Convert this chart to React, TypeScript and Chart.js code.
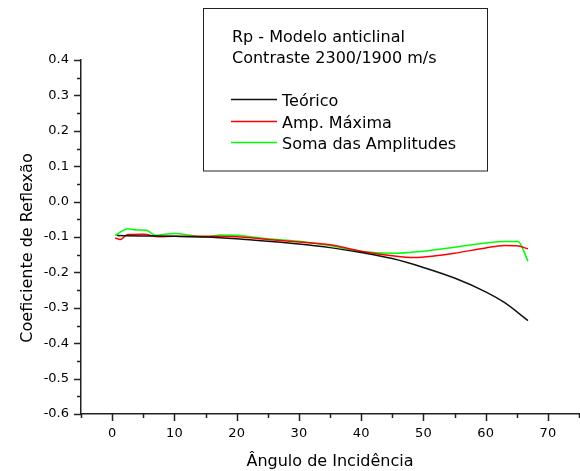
import React, { useEffect, useRef } from "react";
import { Chart, registerables } from "chart.js";

Chart.register(...registerables);

const xTicks = [0, 10, 20, 30, 40, 50, 60, 70];
const yTicks = [-0.6, -0.5, -0.4, -0.3, -0.2, -0.1, 0.0, 0.1, 0.2, 0.3, 0.4];

const titleLines = ["Rp - Modelo anticlinal", "Contraste 2300/1900 m/s"];
const xTitle = "Ângulo de Incidência";
const yTitle = "Coeficiente de Reflexão";

const seriesNames = ["Teórico", "Amp. Máxima", "Soma das Amplitudes"];
const seriesColors = ["#111111", "#ff0000", "#00ff00"];

const teoricoAngles = [0.8, 5, 10, 15, 20, 25, 30, 35, 40, 45, 50, 55, 60, 63, 66.8];
const teoricoValues = [-0.096, -0.097, -0.098, -0.1, -0.105, -0.112, -0.12, -0.13, -0.144, -0.161, -0.186, -0.216, -0.255, -0.285, -0.336];

const ampMaxAngles = [0.5, 1.3, 2.5, 5, 7.5, 10, 15, 20, 25, 30, 35, 40, 45, 48.5, 52, 55, 60, 63, 65, 66.8];
const ampMaxValues = [-0.103, -0.107, -0.093, -0.092, -0.099, -0.098, -0.098, -0.099, -0.107, -0.114, -0.122, -0.14, -0.153, -0.158, -0.153, -0.146, -0.131, -0.124, -0.125, -0.133];

const somaAngles = [0.5, 1.5, 2.5, 4, 5.5, 7, 10, 12.5, 15, 17.5, 20, 25, 30, 35, 40, 45, 50, 55, 60, 63, 65.2, 66.8];
const somaValues = [-0.096, -0.084, -0.077, -0.08, -0.081, -0.095, -0.09, -0.095, -0.1, -0.094, -0.095, -0.105, -0.112, -0.124, -0.141, -0.146, -0.14, -0.129, -0.117, -0.113, -0.113, -0.168];

const FONT = "'DejaVu Sans', sans-serif";

const toPoints = (xs: number[], ys: number[]) => xs.map((x, i) => ({ x, y: ys[i] }));

const decorPlugin = {
  id: "decor",
  afterDraw(chart: any) {
    const ctx = chart.ctx as CanvasRenderingContext2D;
    const xs = chart.scales.x;
    const ys = chart.scales.y;
    const area = chart.chartArea;
    ctx.save();
    ctx.strokeStyle = "#222";
    ctx.lineWidth = 1.5;
    for (let v = -5; v <= 75; v += 5) {
      const px = Math.round(xs.getPixelForValue(v)) + 0.5;
      const major = v % 10 === 0;
      ctx.beginPath();
      ctx.moveTo(px, area.bottom);
      ctx.lineTo(px, area.bottom + (major ? 7 : 4));
      ctx.stroke();
    }
    for (let i = -12; i <= 8; i++) {
      const v = i * 0.05;
      const py = Math.round(ys.getPixelForValue(v)) + 0.5;
      const major = i % 2 === 0;
      ctx.beginPath();
      ctx.moveTo(area.left, py);
      ctx.lineTo(area.left - (major ? 7 : 4), py);
      ctx.stroke();
    }
    ctx.fillStyle = "#000";
    ctx.font = `16px ${FONT}`;
    ctx.textAlign = "center";
    ctx.textBaseline = "alphabetic";
    ctx.fillText(xTitle, (area.left + area.right) / 2, 466);
    ctx.save();
    ctx.translate(32, 248);
    ctx.rotate(-Math.PI / 2);
    ctx.fillText(yTitle, 0, 0);
    ctx.restore();
    ctx.lineWidth = 1;
    ctx.strokeStyle = "#222";
    ctx.strokeRect(203.5, 8.5, 284, 162.5);
    ctx.textAlign = "left";
    ctx.fillText(titleLines[0], 232, 42);
    ctx.fillText(titleLines[1], 232, 63);
    const itemY = [99.5, 121.5, 142.5];
    seriesNames.forEach((name, i) => {
      ctx.strokeStyle = seriesColors[i];
      ctx.lineWidth = 1.5;
      ctx.beginPath();
      ctx.moveTo(231, itemY[i]);
      ctx.lineTo(277, itemY[i]);
      ctx.stroke();
      ctx.fillStyle = "#000";
      ctx.fillText(name, 282, itemY[i] + 6);
    });
    ctx.restore();
  },
};

export default function App() {
  const ref = useRef<HTMLCanvasElement>(null);
  useEffect(() => {
    document.body.style.margin = "0";
    const canvas = ref.current!;
    const seriesData = [
      toPoints(teoricoAngles, teoricoValues),
      toPoints(ampMaxAngles, ampMaxValues),
      toPoints(somaAngles, somaValues),
    ];
    const chart = new Chart(canvas, {
      type: "line",
      data: {
        datasets: seriesData.map((d, i) => ({
          label: seriesNames[i],
          data: d,
          borderColor: seriesColors[i],
          borderWidth: 1.5,
          pointRadius: 0,
          fill: false,
          cubicInterpolationMode: "monotone" as const,
        })),
      },
      options: {
        responsive: false,
        animation: false,
        devicePixelRatio: 1,
        layout: { padding: { top: 60, right: 1, left: 0, bottom: 0 } },
        plugins: { legend: { display: false }, tooltip: { enabled: false }, title: { display: false } },
        scales: {
          x: {
            type: "linear",
            min: -5,
            max: 75,
            afterBuildTicks: (s: any) => {
              s.ticks = xTicks.map((v) => ({ value: v }));
            },
            afterFit: (s: any) => {
              s.height = 57;
            },
            grid: { display: false, drawTicks: false },
            border: { display: true, color: "#222", width: 1.5 },
            ticks: {
              color: "#000",
              font: { family: FONT, size: 13 },
              padding: 12,
              maxRotation: 0,
              autoSkip: false,
              callback: (v: any) => String(v),
            },
          },
          y: {
            type: "linear",
            min: -0.6,
            max: 0.4,
            afterBuildTicks: (s: any) => {
              s.ticks = yTicks.map((v) => ({ value: v }));
            },
            afterFit: (s: any) => {
              s.width = 81;
            },
            grid: { display: false, drawTicks: false },
            border: { display: true, color: "#222", width: 1.5 },
            ticks: {
              color: "#000",
              font: { family: FONT, size: 13 },
              padding: 12,
              autoSkip: false,
              callback: (v: any) => Number(v).toFixed(1),
            },
          },
        },
      },
      plugins: [decorPlugin],
    });
    return () => chart.destroy();
  }, []);
  return (
    <div style={{ width: 580, height: 471, background: "#fff" }}>
      <canvas ref={ref} width={580} height={471} />
    </div>
  );
}
